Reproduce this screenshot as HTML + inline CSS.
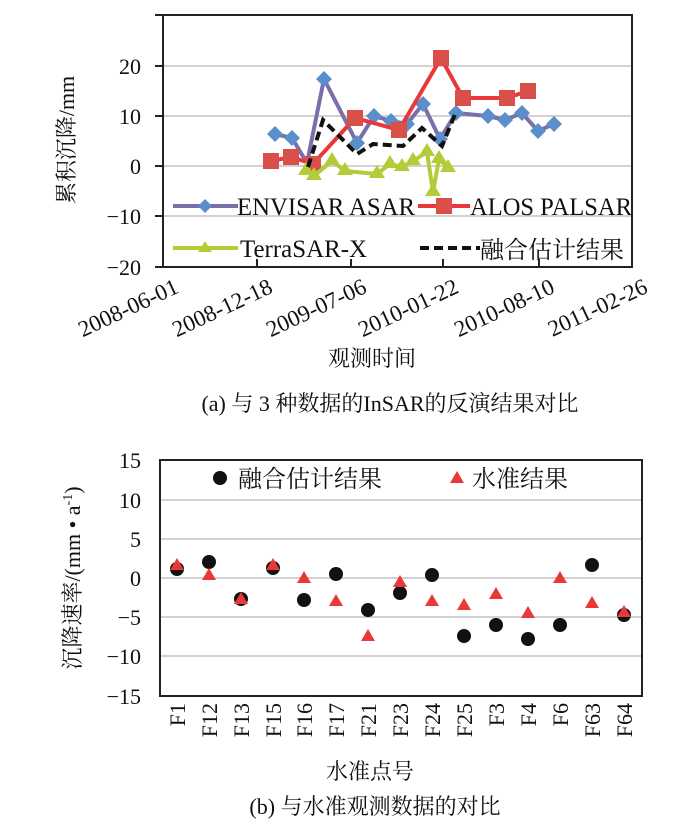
<!DOCTYPE html>
<html><head><meta charset="utf-8"><style>
html,body{margin:0;padding:0;background:#fff;}
svg{display:block;font-family:"Liberation Serif","Noto Serif CJK SC",serif;}
</style></head><body>
<svg width="700" height="834" viewBox="0 0 700 834" xmlns="http://www.w3.org/2000/svg">
<g stroke="#c8c0c0" stroke-width="1.5">
<line x1="163" y1="66" x2="632" y2="66"/><line x1="163" y1="116" x2="632" y2="116"/>
<line x1="163" y1="166" x2="632" y2="166"/><line x1="163" y1="216" x2="632" y2="216"/>
</g>
<rect x="163" y="15" width="469" height="252" fill="none" stroke="#222" stroke-width="2"/>
<g stroke="#222" stroke-width="2">
<line x1="155" y1="15" x2="163" y2="15"/><line x1="155" y1="66" x2="163" y2="66"/><line x1="155" y1="116" x2="163" y2="116"/><line x1="155" y1="166" x2="163" y2="166"/><line x1="155" y1="216" x2="163" y2="216"/><line x1="155" y1="267" x2="163" y2="267"/>
<line x1="257" y1="267" x2="257" y2="259"/><line x1="351" y1="267" x2="351" y2="259"/><line x1="443" y1="267" x2="443" y2="259"/><line x1="539" y1="267" x2="539" y2="259"/>
</g>
<g font-size="22" text-anchor="end" fill="#111">
<text x="141" y="74">20</text><text x="141" y="124">10</text><text x="141" y="174">0</text><text x="141" y="224">−10</text><text x="141" y="275">−20</text>
</g>
<text transform="translate(74,140) rotate(-90)" font-size="22" text-anchor="middle" fill="#111">累积沉降/mm</text>
<g font-size="23" text-anchor="end" fill="#111">
<text transform="translate(180,292) rotate(-25)">2008-06-01</text>
<text transform="translate(274,292) rotate(-25)">2008-12-18</text>
<text transform="translate(368,292) rotate(-25)">2009-07-06</text>
<text transform="translate(460,292) rotate(-25)">2010-01-22</text>
<text transform="translate(556,292) rotate(-25)">2010-08-10</text>
<text transform="translate(649,292) rotate(-25)">2011-02-26</text>
</g>
<text x="372" y="366" font-size="22" text-anchor="middle" fill="#111">观测时间</text>
<text x="390" y="411" font-size="22" text-anchor="middle" fill="#111">(a) 与 3 种数据的InSAR的反演结果对比</text>

<polyline fill="none" stroke="#7b6fa8" stroke-width="4" points="275,134 292,138 307,163 324,79 357,143 374,116 391,121 407,124 423,104 440,139 456,113 488,116 505,120 522,113 538,131 554,124"/>
<g fill="#5b8fcc">
<path d="M275,126l8,8-8,8-8-8z"/><path d="M292,130l8,8-8,8-8-8z"/><path d="M324,71l8,8-8,8-8-8z"/><path d="M357,135l8,8-8,8-8-8z"/><path d="M374,108l8,8-8,8-8-8z"/><path d="M391,113l8,8-8,8-8-8z"/><path d="M407,116l8,8-8,8-8-8z"/><path d="M423,96l8,8-8,8-8-8z"/><path d="M440,131l8,8-8,8-8-8z"/><path d="M456,105l8,8-8,8-8-8z"/><path d="M488,108l8,8-8,8-8-8z"/><path d="M505,112l8,8-8,8-8-8z"/><path d="M522,105l8,8-8,8-8-8z"/><path d="M538,123l8,8-8,8-8-8z"/><path d="M554,116l8,8-8,8-8-8z"/>
</g>
<polyline fill="none" stroke="#e8383a" stroke-width="4" points="271,161 291,157 313,164 355,118 399,130 441,58 463,98 507,98 528,91"/>
<g fill="#d9504a">
<rect x="263" y="153" width="16" height="16"/><rect x="283" y="149" width="16" height="16"/><rect x="305" y="156" width="16" height="16"/><rect x="347" y="110" width="16" height="16"/><rect x="391" y="122" width="16" height="16"/><rect x="433" y="50" width="16" height="16"/><rect x="455" y="90" width="16" height="16"/><rect x="499" y="90" width="16" height="16"/><rect x="520" y="83" width="16" height="16"/>
</g>
<polyline fill="none" stroke="#b5cc3a" stroke-width="4" points="306,171 314,176 332,161 345,171 377,174 390,164 402,167 413,161 427,152 433,192 439,159 448,168"/>
<g fill="#b5cc3a">
<path d="M306,162l8,13h-16z"/><path d="M314,167l8,13h-16z"/><path d="M332,152l8,13h-16z"/><path d="M345,162l8,13h-16z"/><path d="M377,165l8,13h-16z"/><path d="M390,155l8,13h-16z"/><path d="M402,158l8,13h-16z"/><path d="M413,152l8,13h-16z"/><path d="M427,143l8,13h-16z"/><path d="M433,183l8,13h-16z"/><path d="M439,150l8,13h-16z"/><path d="M448,159l8,13h-16z"/>
</g>
<polyline fill="none" stroke="#111" stroke-width="4" stroke-dasharray="9,5" points="308,167 323,120 357,154 373,144 403,146 422,128 442,146 456,112"/>

<line x1="173" y1="206" x2="238" y2="206" stroke="#7b6fa8" stroke-width="4"/>
<path d="M205,199l7,7-7,7-7-7z" fill="#5b8fcc"/>
<text x="237" y="215" font-size="25" fill="#111" textLength="178" lengthAdjust="spacingAndGlyphs">ENVISAR ASAR</text>
<line x1="418" y1="206" x2="470" y2="206" stroke="#e8383a" stroke-width="4"/>
<rect x="436" y="198" width="16" height="16" fill="#d9504a"/>
<text x="470" y="215" font-size="25" fill="#111" textLength="162" lengthAdjust="spacingAndGlyphs">ALOS PALSAR</text>
<line x1="173" y1="248" x2="238" y2="248" stroke="#b5cc3a" stroke-width="4"/>
<path d="M205,241l7,11h-14z" fill="#b5cc3a"/>
<text x="240" y="257" font-size="25" fill="#111" textLength="127" lengthAdjust="spacingAndGlyphs">TerraSAR-X</text>
<line x1="420" y1="248" x2="480" y2="248" stroke="#111" stroke-width="4" stroke-dasharray="9,5"/>
<text x="480" y="258" font-size="24" fill="#111">融合估计结果</text>

<g stroke="#c8c0c0" stroke-width="1.5">
<line x1="160" y1="500" x2="642" y2="500"/><line x1="160" y1="539" x2="642" y2="539"/><line x1="160" y1="578" x2="642" y2="578"/><line x1="160" y1="617" x2="642" y2="617"/><line x1="160" y1="656" x2="642" y2="656"/>
</g>
<rect x="160" y="460" width="482" height="236" fill="none" stroke="#222" stroke-width="2"/>
<g font-size="22" text-anchor="end" fill="#111">
<text x="141" y="468">15</text><text x="141" y="508">10</text><text x="141" y="547">5</text><text x="141" y="586">0</text><text x="141" y="625">−5</text><text x="141" y="664">−10</text><text x="141" y="704">−15</text>
</g>
<text transform="translate(80,578) rotate(-90)" font-size="22" text-anchor="middle" fill="#111">沉降速率/(mm • a<tspan font-size="14" dy="-8">-1</tspan><tspan dy="8">)</tspan></text>
<g fill="#111">
<circle cx="177" cy="569" r="7"/><circle cx="209" cy="562" r="7"/><circle cx="241" cy="599" r="7"/><circle cx="273" cy="568" r="7"/><circle cx="304" cy="600" r="7"/><circle cx="336" cy="574" r="7"/><circle cx="368" cy="610" r="7"/><circle cx="400" cy="593" r="7"/><circle cx="432" cy="575" r="7"/><circle cx="464" cy="636" r="7"/><circle cx="496" cy="625" r="7"/><circle cx="528" cy="639" r="7"/><circle cx="560" cy="625" r="7"/><circle cx="592" cy="565" r="7"/><circle cx="624" cy="615" r="7"/>
</g>
<g fill="#e8383a">
<path d="M177,558l7,12h-14z"/><path d="M209,568l7,12h-14z"/><path d="M241,592l7,12h-14z"/><path d="M273,558l7,12h-14z"/><path d="M304,571l7,12h-14z"/><path d="M336,594l7,12h-14z"/><path d="M368,629l7,12h-14z"/><path d="M400,575l7,12h-14z"/><path d="M432,594l7,12h-14z"/><path d="M464,598l7,12h-14z"/><path d="M496,587l7,12h-14z"/><path d="M528,606l7,12h-14z"/><path d="M560,571l7,12h-14z"/><path d="M592,596l7,12h-14z"/><path d="M624,605l7,12h-14z"/>
</g>
<circle cx="220" cy="478" r="7" fill="#111"/>
<text x="238" y="487" font-size="24" fill="#111">融合估计结果</text>
<path d="M457,471l7,12h-14z" fill="#e8383a"/>
<text x="472" y="487" font-size="24" fill="#111">水准结果</text>
<g font-size="22" text-anchor="end" fill="#111">
<text transform="translate(185,703) rotate(-90)">F1</text>
<text transform="translate(217,703) rotate(-90)">F12</text>
<text transform="translate(249,703) rotate(-90)">F13</text>
<text transform="translate(281,703) rotate(-90)">F15</text>
<text transform="translate(312,703) rotate(-90)">F16</text>
<text transform="translate(344,703) rotate(-90)">F17</text>
<text transform="translate(376,703) rotate(-90)">F21</text>
<text transform="translate(408,703) rotate(-90)">F23</text>
<text transform="translate(440,703) rotate(-90)">F24</text>
<text transform="translate(472,703) rotate(-90)">F25</text>
<text transform="translate(504,703) rotate(-90)">F3</text>
<text transform="translate(536,703) rotate(-90)">F4</text>
<text transform="translate(568,703) rotate(-90)">F6</text>
<text transform="translate(600,703) rotate(-90)">F63</text>
<text transform="translate(632,703) rotate(-90)">F64</text>
</g>
<text x="370" y="779" font-size="22" text-anchor="middle" fill="#111">水准点号</text>
<text x="375" y="814" font-size="22" text-anchor="middle" fill="#111">(b) 与水准观测数据的对比</text>
</svg>
</body></html>
